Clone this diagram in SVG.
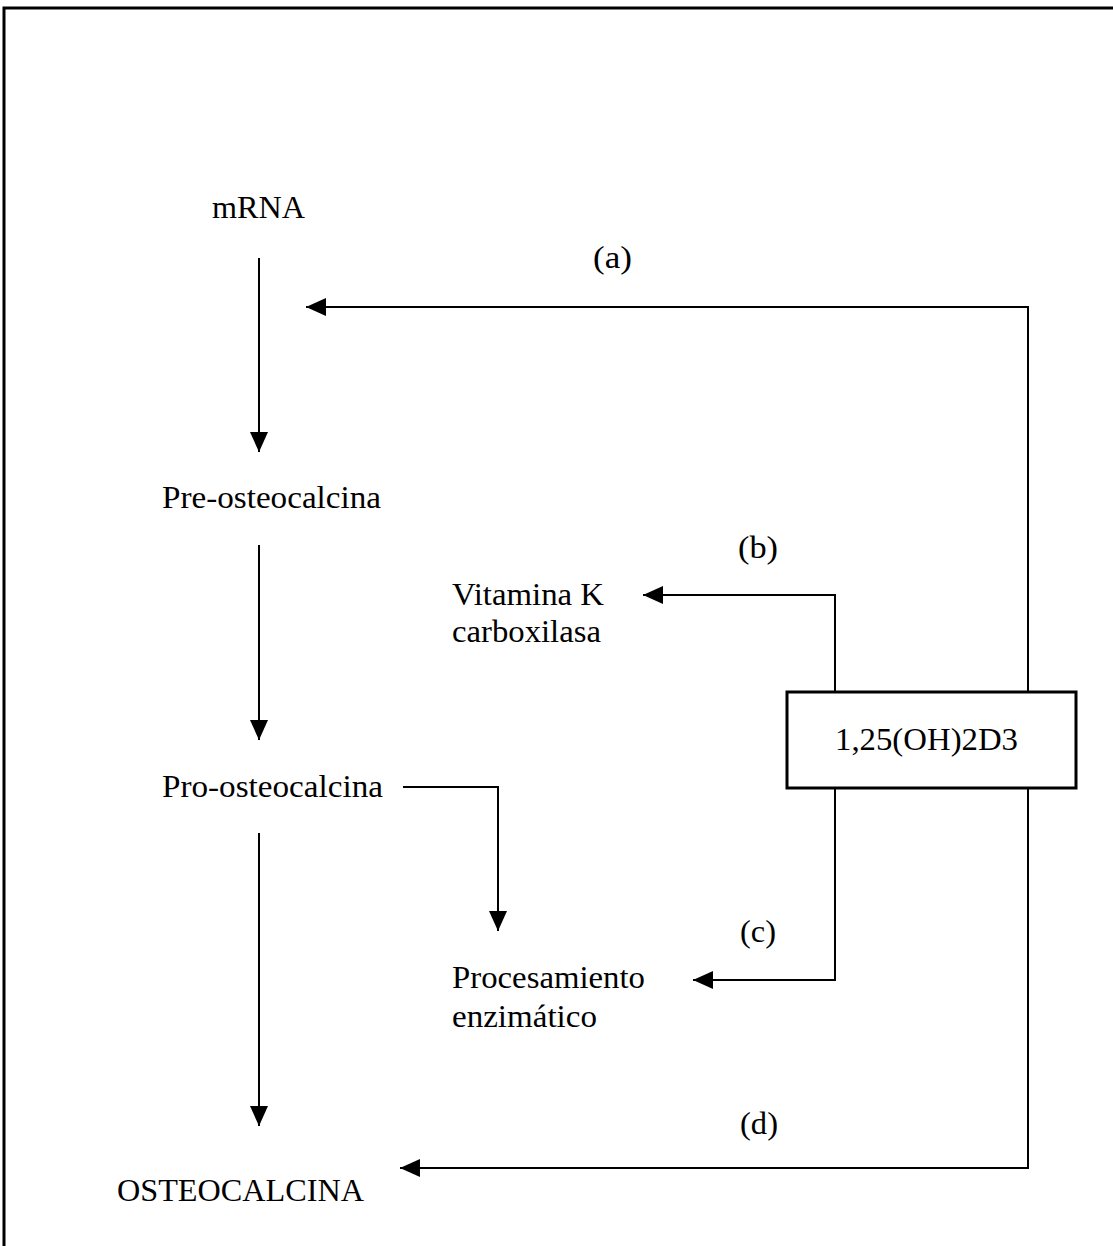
<svg xmlns="http://www.w3.org/2000/svg" width="1113" height="1246" viewBox="0 0 1113 1246">
<style>
text{font-family:"Liberation Serif","Times New Roman",serif;font-size:32px;fill:#000}
.c{fill:none;stroke:#000;stroke-width:2}
.b{fill:none;stroke:#000;stroke-width:3}
</style>
<defs>
<marker id="ah" markerUnits="userSpaceOnUse" markerWidth="22" markerHeight="20" refX="20" refY="9" orient="auto">
<path d="M0,0 L20,9 L0,18 Z" fill="#000"/>
</marker>
</defs>
<rect width="1113" height="1246" fill="#fff"/>
<path class="b" d="M4,1246 V8 H1113"/>
<g id="connectors">
<path class="c" d="M259,258 V452" marker-end="url(#ah)"/>
<path class="c" d="M259,545 V740" marker-end="url(#ah)"/>
<path class="c" d="M259,833 V1126" marker-end="url(#ah)"/>
<path class="c" d="M403,787 H498 V931" marker-end="url(#ah)"/>
<path class="c" d="M1028,692 V307 H306" marker-end="url(#ah)"/>
<path class="c" d="M1028,788 V1168 H400" marker-end="url(#ah)"/>
<path class="c" d="M835,692 V595 H643" marker-end="url(#ah)"/>
<path class="c" d="M835,788 V980 H693" marker-end="url(#ah)"/>
</g>
<g id="mrna"><text x="212" y="218" textLength="93" lengthAdjust="spacingAndGlyphs">mRNA</text></g>
<g id="pre"><text x="162" y="508" textLength="219" lengthAdjust="spacingAndGlyphs">Pre-osteocalcina</text></g>
<g id="pro"><text x="162" y="797" textLength="221" lengthAdjust="spacingAndGlyphs">Pro-osteocalcina</text></g>
<g id="osteocalcina"><text x="117" y="1201" textLength="247" lengthAdjust="spacingAndGlyphs">OSTEOCALCINA</text></g>
<g id="vitk"><text x="452" y="605" textLength="152" lengthAdjust="spacingAndGlyphs">Vitamina K</text><text x="452" y="642" textLength="149" lengthAdjust="spacingAndGlyphs">carboxilasa</text></g>
<g id="proc"><text x="452" y="988" textLength="193" lengthAdjust="spacingAndGlyphs">Procesamiento</text><text x="452" y="1027" textLength="145" lengthAdjust="spacingAndGlyphs">enzimático</text></g>
<g id="vitd"><rect x="787" y="692" width="289" height="96" class="b"/><text x="835" y="750" textLength="183" lengthAdjust="spacingAndGlyphs">1,25(OH)2D3</text></g>
<g id="labels">
<text x="593" y="268" textLength="39" lengthAdjust="spacingAndGlyphs">(a)</text>
<text x="738" y="558" textLength="40" lengthAdjust="spacingAndGlyphs">(b)</text>
<text x="740" y="942" textLength="36" lengthAdjust="spacingAndGlyphs">(c)</text>
<text x="740" y="1134" textLength="38" lengthAdjust="spacingAndGlyphs">(d)</text>
</g>
</svg>
